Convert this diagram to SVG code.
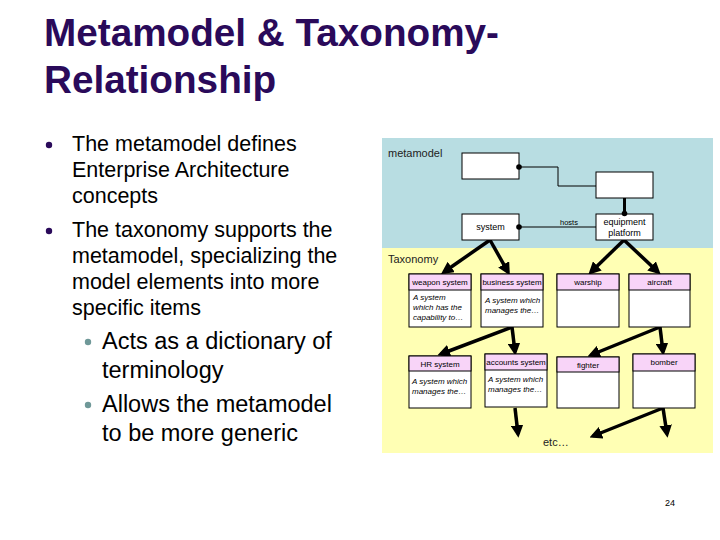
<svg xmlns="http://www.w3.org/2000/svg" width="720" height="540" viewBox="0 0 720 540">
<defs>
<style>
.title{font-family:"Liberation Sans",Arial,sans-serif;font-weight:bold;font-size:38.7px;fill:#2a0a5a}
.b1{font-family:"Liberation Sans",Arial,sans-serif;font-size:21.5px;fill:#000}
.b2{font-family:"Liberation Sans",Arial,sans-serif;font-size:23.5px;fill:#000}
.lbl{font-family:"Liberation Sans",Arial,sans-serif;font-size:11px;fill:#222}
.sm{font-family:"Liberation Sans",Arial,sans-serif;font-size:9px;fill:#000}
.hd{font-family:"Liberation Sans",Arial,sans-serif;font-size:8px;fill:#000;text-anchor:middle}
.it{font-family:"Liberation Sans",Arial,sans-serif;font-size:8px;font-style:italic;fill:#000}
.box{fill:#fff;stroke:#000;stroke-width:1}
.head{fill:#f8d4f8;stroke:#000;stroke-width:1}
.thin{fill:none;stroke:#000;stroke-width:1}
.thick{fill:none;stroke:#000;stroke-width:3.5;marker-end:url(#ah)}
</style>
<marker id="ah" viewBox="0 0 10 10" refX="7" refY="5" markerWidth="3.6" markerHeight="3.6" orient="auto" markerUnits="strokeWidth">
<path d="M0,0 L10,5 L0,10 z" fill="#000"/>
</marker>
</defs>
<rect width="720" height="540" fill="#fff"/>
<text class="title" x="44" y="46">Metamodel &amp; Taxonomy-</text>
<text class="title" x="44" y="93">Relationship</text>
<g id="bullets">
<circle cx="49" cy="145" r="3.2" fill="#2a0a5a"/>
<circle cx="49" cy="231" r="3.2" fill="#2a0a5a"/>
<text class="b1" x="72" y="151">The metamodel defines</text>
<text class="b1" x="72" y="177">Enterprise Architecture</text>
<text class="b1" x="72" y="203">concepts</text>
<text class="b1" x="72" y="237">The taxonomy supports the</text>
<text class="b1" x="72" y="263">metamodel, specializing the</text>
<text class="b1" x="72" y="289">model elements into more</text>
<text class="b1" x="72" y="315">specific items</text>
<circle cx="88" cy="342" r="3.2" fill="#6f9898"/>
<circle cx="88" cy="405" r="3.2" fill="#6f9898"/>
<text class="b2" x="102" y="349">Acts as a dictionary of</text>
<text class="b2" x="102" y="378">terminology</text>
<text class="b2" x="102" y="412">Allows the metamodel</text>
<text class="b2" x="102" y="441">to be more generic</text>
</g>
<rect x="382" y="138" width="331" height="110" fill="#b8dde2"/>
<rect x="382" y="248" width="331" height="205" fill="#ffffb4"/>
<text class="lbl" x="388" y="157">metamodel</text>
<text class="lbl" x="388" y="263">Taxonomy</text>
<g id="connectors">
<path class="thin" d="M519,167 H558 V186 H596"/>
<path d="M624.5,198 V214" stroke="#000" stroke-width="3" fill="none"/>
<path class="thin" d="M519,227 H596"/>
<text x="560" y="225" style="font-family:'Liberation Sans',Arial,sans-serif;font-size:7.5px">hosts</text>
<path class="thick" d="M490,240 L444,272"/>
<path class="thick" d="M490,240 L508,272"/>
<path class="thick" d="M624,240 L591,272"/>
<path class="thick" d="M624,240 L658,272"/>
<path class="thick" d="M512,327 L441,354"/>
<path class="thick" d="M512,327 L515,352"/>
<path class="thick" d="M660,327 L591,355"/>
<path class="thick" d="M660,327 L663,352"/>
<path class="thick" d="M515,408 L518,434"/>
<path class="thick" d="M663,408 L593,436"/>
<path class="thick" d="M663,408 L667,434"/>
</g>
<g id="n-meta1"><rect class="box" x="462" y="153" width="57" height="26"/></g>
<g id="n-meta2"><rect class="box" x="596" y="172" width="57" height="26"/></g>
<g id="n-system"><rect class="box" x="462" y="214" width="57" height="26"/><text class="sm" x="490.5" y="230" text-anchor="middle">system</text></g>
<g id="n-equipment"><rect class="box" x="596" y="214" width="57" height="26"/><text class="sm" x="624.5" y="225" text-anchor="middle">equipment</text><text class="sm" x="624.5" y="236" text-anchor="middle">platform</text></g>
<g id="dots">
<circle cx="519" cy="167" r="2.8" fill="#000"/>
<circle cx="624.5" cy="213.5" r="2.8" fill="#000"/>
<circle cx="519" cy="227" r="2.8" fill="#000"/>
</g>
<g id="n-weapon"><rect class="box" x="409" y="274" width="62" height="53"/><rect class="head" x="409" y="274" width="62" height="16"/><text class="hd" x="440" y="285">weapon system</text><text class="it" x="413" y="300">A system</text><text class="it" x="413" y="310">which has the</text><text class="it" x="413" y="320">capability to…</text></g>
<g id="n-business"><rect class="box" x="481" y="274" width="62" height="53"/><rect class="head" x="481" y="274" width="62" height="16"/><text class="hd" x="512" y="285">business system</text><text class="it" x="485" y="303">A system which</text><text class="it" x="485" y="313">manages the…</text></g>
<g id="n-warship"><rect class="box" x="557" y="274" width="62" height="53"/><rect class="head" x="557" y="274" width="62" height="16"/><text class="hd" x="588" y="285">warship</text></g>
<g id="n-aircraft"><rect class="box" x="629" y="274" width="61" height="53"/><rect class="head" x="629" y="274" width="61" height="16"/><text class="hd" x="659.5" y="285">aircraft</text></g>
<g id="n-hr"><rect class="box" x="409" y="356" width="62" height="52"/><rect class="head" x="409" y="356" width="62" height="15"/><text class="hd" x="440" y="366.5">HR system</text><text class="it" x="412" y="384">A system which</text><text class="it" x="412" y="394">manages the…</text></g>
<g id="n-accounts"><rect class="box" x="485" y="354" width="62" height="53"/><rect class="head" x="485" y="354" width="62" height="16"/><text class="hd" x="516" y="365">accounts system</text><text class="it" x="488" y="382">A system which</text><text class="it" x="488" y="392">manages the…</text></g>
<g id="n-fighter"><rect class="box" x="557" y="357" width="62" height="51"/><rect class="head" x="557" y="357" width="62" height="15"/><text class="hd" x="588" y="367.5">fighter</text></g>
<g id="n-bomber"><rect class="box" x="633" y="354" width="62" height="54"/><rect class="head" x="633" y="354" width="62" height="17"/><text class="hd" x="664" y="365">bomber</text></g>
<text class="lbl" x="543" y="446">etc…</text>
<text class="sm" x="665" y="506">24</text>
</svg>
